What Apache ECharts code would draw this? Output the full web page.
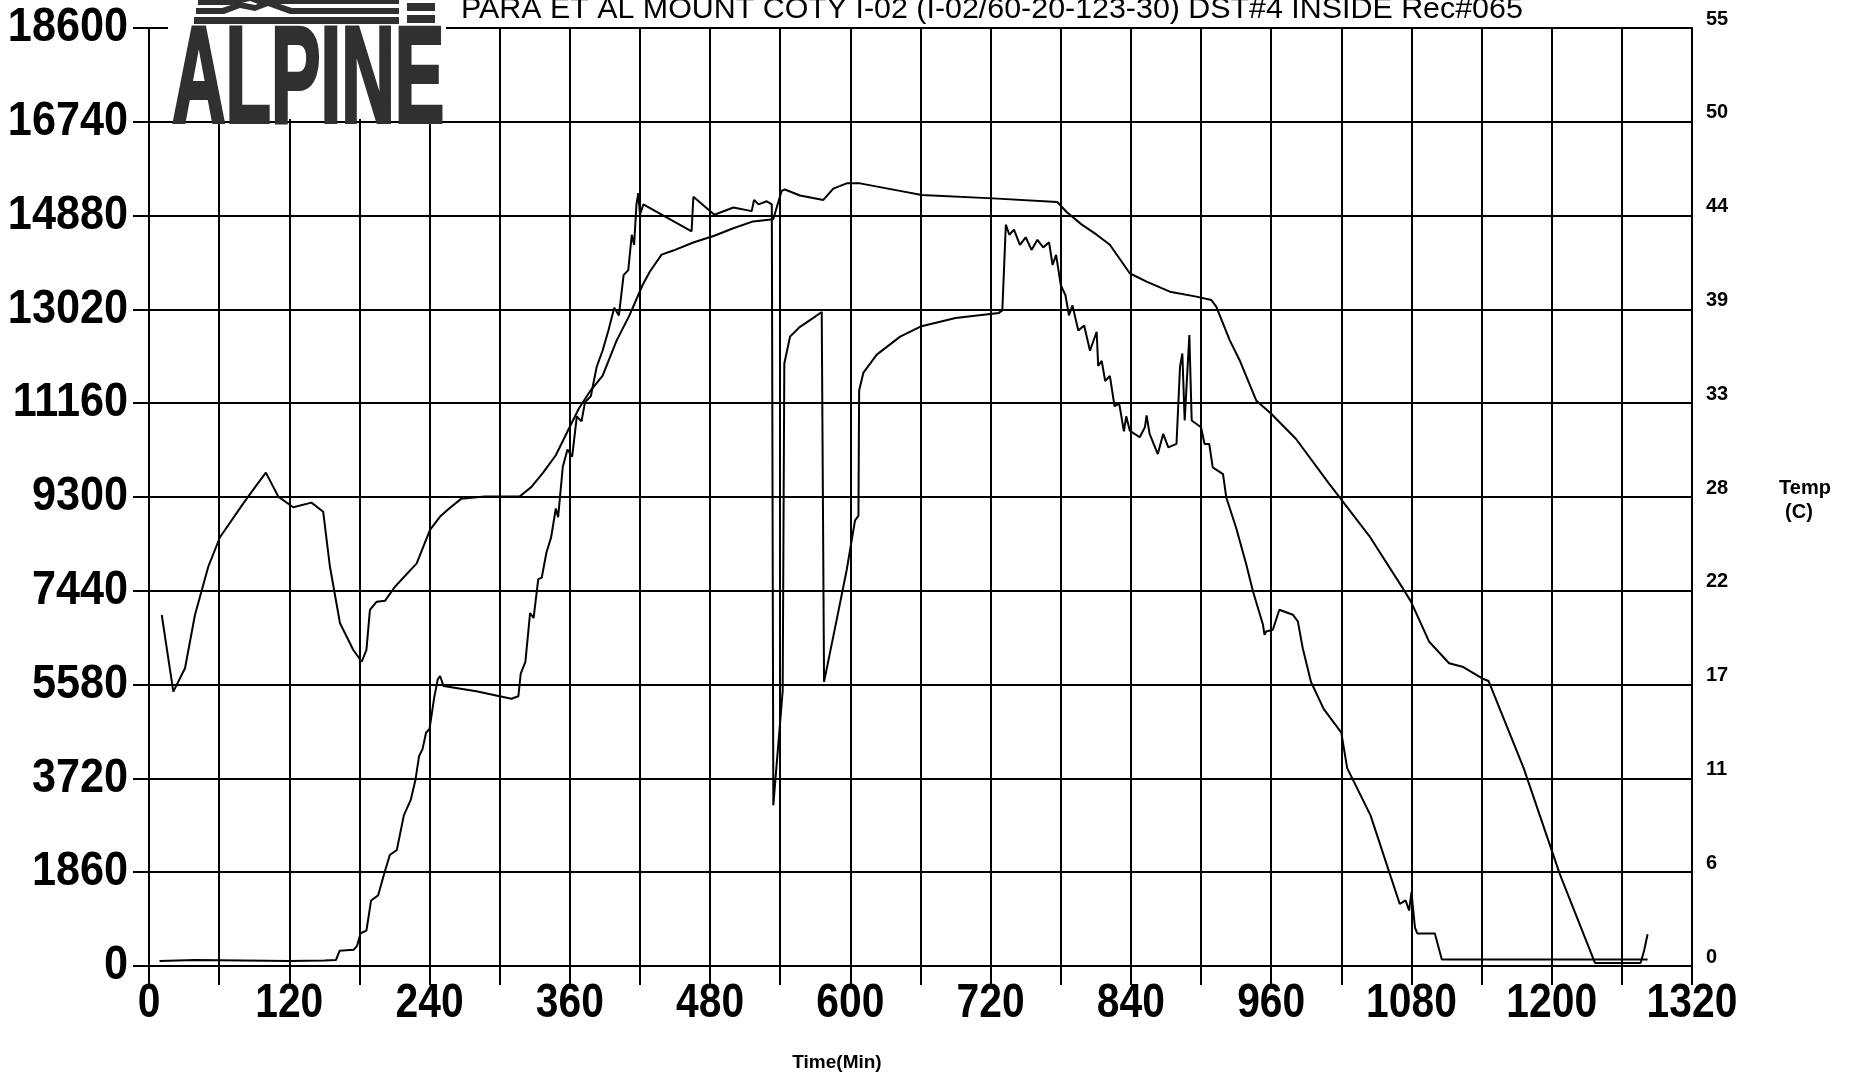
<!DOCTYPE html>
<html>
<head>
<meta charset="utf-8">
<script src="https://cdn.jsdelivr.net/npm/echarts@6/dist/echarts.min.js"></script>
<style>
html,body{margin:0;padding:0;background:#fff;}
#chart{width:1853px;height:1076px;}
</style>
</head>
<body>
<div id="chart"></div>
<script>
// ---- data ----
const titleText = "PARA ET AL MOUNT COTY I-02 (I-02/60-20-123-30) DST#4 INSIDE Rec#065";
const xTickLabels = [0,120,240,360,480,600,720,840,960,1080,1200,1320];
const pressureTickLabels = [0,1860,3720,5580,7440,9300,11160,13020,14880,16740,18600];
const tempTickLabels = [0,6,11,17,22,28,33,39,44,50,55];

// Pressure (psi, left axis) vs time (min)
const pTime = [9,40,80,120,150,160,163,175,178,181,186,190,196,201,206,212,218,224,228,231,234,237,240,244,247,249,252,280,300,310,316,318,322,326,329,333,336,340,344,348,350,354,358,362,366,370,373,378,383,388,393,398,402,406,410,413,415,417,418.6,420,422.9,464.2,465.7,483.7,500,515.6,517.6,521.4,528.5,532.8,534.1,542.1,543.5,548.4,556.9,568.3,575.5,577.5,588.4,596.9,604,606.9,607.5,611.2,622.6,642.6,660,690,727,730,733,736,740,745,750,755,760,765,770,773,776,780,784,787,790,795,800,805,810.7,812,815,818,822,826,830,834,836,839,847.5,852,853.4,856,863,867.6,872,879,882,884,886,890,892,893,900,903,907,910,918.8,921.6,930,938.7,944.4,953,954.3,955.7,961.4,967,978.5,982.8,987,994,1005,1020,1025,1045,1065,1070,1075,1078,1080,1083,1085,1100,1106,1282];
const pValue = [100,120,110,100,110,120,300,320,400,650,700,1300,1400,1816,2200,2300,2986,3300,3700,4158,4300,4626,4700,5327,5680,5750,5550,5450,5350,5300,5350,5800,6030,7000,6900,7671,7700,8200,8500,9072,8900,9900,10243,10100,10900,10800,11180,11300,11883,12200,12600,13054,12900,13700,13800,14500,14300,15100,15325,14900,15102,14569,15253,14898,15040,14969,15191,15102,15164,15102,3190,5457,11946,12480,12675,12853,12969,5634,6879,7857,8835,8924,11413,11768,12124,12480,12680,12850,12950,13000,14700,14500,14600,14300,14450,14200,14400,14250,14350,13900,14100,13500,13300,12900,13100,12600,12700,12200,12576,11900,12000,11600,11700,11100,11150,10600,10900,10617,10484,10684,10916,10551,10152,10551,10285,10352,11879,12145,10816,12510,10816,10783,10684,10352,10352,9887,9754,9289,8691,7961,7430,6766,6567,6633,6667,7065,6966,6833,6301,5637,5093,4626,3923,2986,1580,1230,1300,1100,1464,761,645,645,130,130];

// Temperature (deg C, right axis) vs time (min)
const tTime = [10.9,20.8,30.8,39.3,50.7,60.7,80.7,92,100,110.6,123.4,139,149,154.8,163.4,174.8,182,186,189,194.8,202,210.4,229,240.4,249,257,267,287,317,327,337,348,358,368,378,388,400,411,422.3,428.5,438.5,448.5,465.6,483.6,499.8,516.9,534,541.2,544,556.9,576.9,585.4,596.8,608.2,642.4,661,722,777,785,798,810.7,822,839,853.4,873.3,896,908.8,913,924.5,933,947.2,960,981.3,1009.8,1019.7,1044,1072.4,1079.5,1095,1112.2,1123.6,1140.6,1146,1176,1207,1237,1276,1279,1282];
const tValue = [20.58,16.09,17.46,20.58,23.41,25.14,27.13,28.20,28.93,27.52,26.90,27.17,26.64,23.41,20.10,18.53,17.84,18.53,20.88,21.36,21.42,22.24,23.61,25.57,26.35,26.84,27.39,27.53,27.53,28.08,28.91,29.95,31.34,32.72,33.77,34.60,36.67,38.15,39.93,40.72,41.71,41.95,42.42,42.82,43.26,43.66,43.79,45.45,45.53,45.18,44.92,45.58,45.89,45.89,45.45,45.21,45.01,44.80,44.21,43.47,42.88,42.29,40.62,40.13,39.54,39.25,39.05,38.66,36.70,35.52,33.16,32.38,30.90,28.25,27.37,25.21,22.17,21.38,19.03,17.75,17.55,16.86,16.71,11.60,5.37,0.18,0.18,0.89,1.86];

const pressureData = pTime.map((t,i)=>[t,pValue[i]]);
const tempData = tTime.map((t,i)=>[t,tValue[i]]);

const sansFont = "'Liberation Sans',Arial,sans-serif";
const logoGray = '#303030';

const chart = echarts.init(document.getElementById('chart'), null, {renderer:'canvas'});
chart.setOption({
  animation:false,
  backgroundColor:'#fff',
  grid:{left:149,right:161,top:28,bottom:110,containLabel:false,outerBoundsMode:'none'},
  xAxis:{
    type:'value',min:0,max:1320,interval:60,
    axisLine:{show:true,onZero:false,lineStyle:{color:'#000',width:2}},
    axisTick:{show:true,length:19,lineStyle:{color:'#000',width:2}},
    splitLine:{show:true,lineStyle:{color:'#000',width:2}},
    axisLabel:{show:false}
  },
  yAxis:[{
    type:'value',min:0,max:18600,interval:1860,
    axisLine:{show:true,lineStyle:{color:'#000',width:2}},
    axisTick:{show:true,length:16,lineStyle:{color:'#000',width:2}},
    splitLine:{show:true,lineStyle:{color:'#000',width:2}},
    axisLabel:{show:false}
  },{
    type:'value',min:0,max:55,interval:5.5,position:'right',
    axisLine:{show:true,lineStyle:{color:'#000',width:2}},
    axisTick:{show:false},
    splitLine:{show:false},
    axisLabel:{margin:14,color:'#000',fontSize:20,fontWeight:'bold',fontFamily:sansFont,
      verticalAlign:'bottom',lineHeight:18,
      formatter:(v,i)=> String(tempTickLabels[i])}
  }],
  series:[{
    name:'Pressure',type:'line',yAxisIndex:0,data:pressureData,
    showSymbol:false,symbol:'none',
    lineStyle:{color:'#000',width:2},z:5
  },{
    name:'Temperature',type:'line',yAxisIndex:1,data:tempData,
    showSymbol:false,symbol:'none',
    lineStyle:{color:'#000',width:2},z:5
  }]
});

// Static graphics: logo, title, axis names
const graphics = [
  {type:'rect',shape:{x:168,y:0,width:278,height:119},style:{fill:'#fff'},z:10},
  {type:'rect',shape:{x:194,y:17,width:205,height:7},style:{fill:logoGray},z:11},
  {type:'polygon',shape:{points:[[196,8],[222,8],[240,2],[255,5],[268,0],[292,8],[399,8],[399,14],[290,14],[268,6],[255,11],[240,8],[224,14],[196,14]]},style:{fill:logoGray},z:11},
  {type:'polygon',shape:{points:[[198,-2],[252,-2],[399,-2],[399,4],[258,4],[250,1],[232,5],[198,5]]},style:{fill:logoGray},z:11},
  {type:'rect',shape:{x:407,y:3,width:28,height:8},style:{fill:logoGray},z:11},
  {type:'rect',shape:{x:407,y:15,width:28,height:8},style:{fill:logoGray},z:11},
  {type:'text',x:172,y:84,scaleX:0.542,scaleY:1,z:11,
    style:{text:'ALPINE',fill:logoGray,stroke:logoGray,lineWidth:4,font:"bold 137px "+sansFont,textAlign:'left',textVerticalAlign:'middle'}},
  {type:'text',x:461,y:10,z:12,
    style:{text:titleText,fill:'#000',font:"30.4px "+sansFont,textAlign:'left',textVerticalAlign:'middle'}},
  {type:'text',x:837,y:1063,z:12,
    style:{text:'Time(Min)',fill:'#000',font:"bold 19px "+sansFont,textAlign:'center',textVerticalAlign:'middle'}},
  {type:'text',x:1805,y:488,z:12,
    style:{text:'Temp',fill:'#000',font:"bold 20px "+sansFont,textAlign:'center',textVerticalAlign:'middle'}},
  {type:'text',x:1799,y:512,z:12,
    style:{text:'(C)',fill:'#000',font:"bold 20px "+sansFont,textAlign:'center',textVerticalAlign:'middle'}}
];

// Axis tick labels placed through the chart's own scales
xTickLabels.forEach(v=>{
  const px = chart.convertToPixel({xAxisIndex:0}, v);
  graphics.push({type:'text',x:px,y:1004,scaleX:0.85,z:12,
    style:{text:String(v),fill:'#000',font:"bold 48px "+sansFont,textAlign:'center',textVerticalAlign:'middle'}});
});
pressureTickLabels.forEach(v=>{
  const py = chart.convertToPixel({yAxisIndex:0}, v);
  graphics.push({type:'text',x:128,y:py,scaleX:0.9,z:12,
    style:{text:String(v),fill:'#000',font:"bold 48px "+sansFont,textAlign:'right',textVerticalAlign:'middle'}});
});
chart.setOption({graphic:graphics});
</script>
</body>
</html>
